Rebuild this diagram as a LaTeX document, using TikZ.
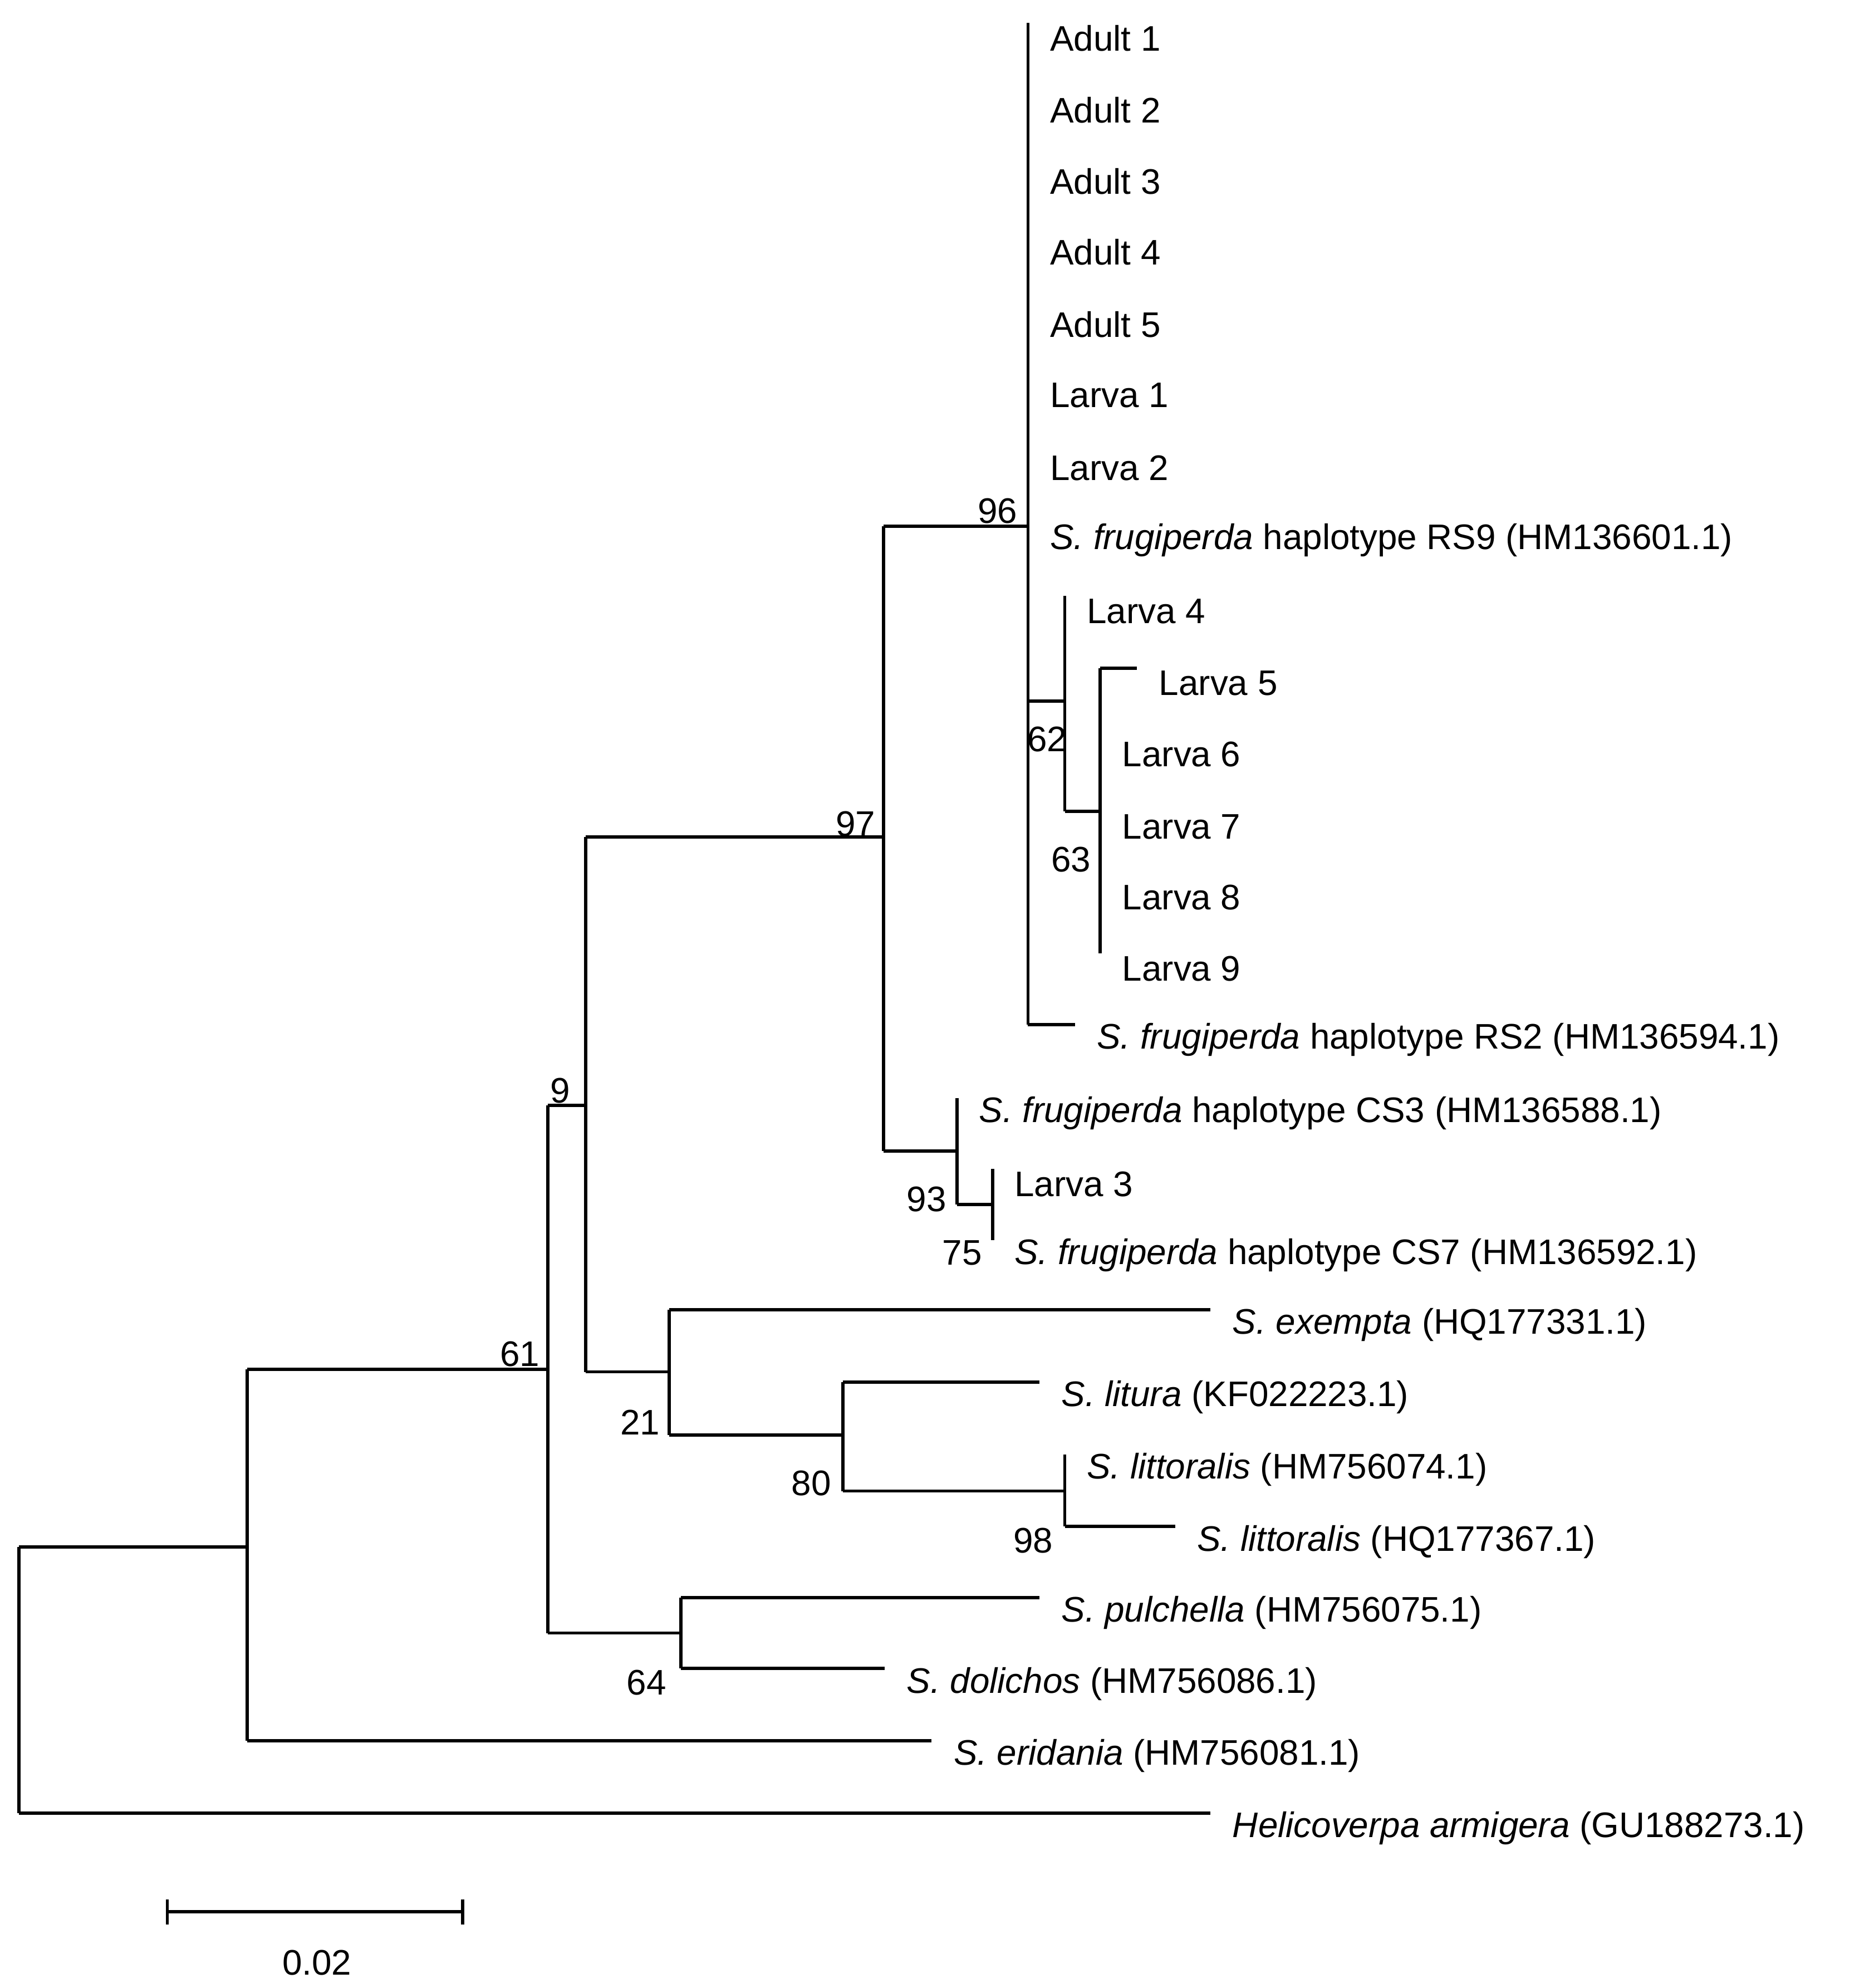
\documentclass[tikz,border=0pt]{standalone}
\usepackage{fontspec}
\setmainfont{Liberation Sans}
\newcommand{\lf}[4]{\draw[br] (#1,#3) -- (#2,#3); \node[lab] (#4) at (#2+17,#3+12) {#4};}
\begin{document}
\begin{tikzpicture}[x=0.5pt,y=-0.5pt,br/.style={line width=1.3pt},
 lab/.style={anchor=west,inner sep=0pt,font=\fontsize{14}{16}\selectfont},
 bs/.style={inner sep=0pt,font=\fontsize{14}{16}\selectfont}]
\useasboundingbox (0,0) rectangle (1478,1568);
\newcommand{\leaf}[4]{\draw[br] (#1,#3) -- (#2,#3); \node[lab] at (#2+17,#3+12) {#4};}
% root
\draw[br] (15,1220) -- (15,1430);
\draw[br] (15,1220) -- (195,1220);
\leaf{15}{955}{1430}{\textit{Helicoverpa armigera} (GU188273.1)}
\draw[br] (195,1080) -- (195,1373);
\draw[br] (195,1080) -- (432,1080);
\leaf{195}{735}{1373}{\textit{S. eridania} (HM756081.1)}
\draw[br] (432,872) -- (432,1288);
\draw[br] (432,872) -- (462,872);
\draw[br] (432,1288) -- (537,1288);
\draw[br] (462,660) -- (462,1082);
\draw[br] (462,660) -- (697,660);
\draw[br] (462,1082) -- (528,1082);
\draw[br] (697,415) -- (697,908);
\draw[br] (697,415) -- (811,415);
\draw[br] (697,908) -- (755,908);
\draw[br] (811,18) -- (811,808);
\foreach \y/\t in {18/Adult 1,75/Adult 2,131/Adult 3,187/Adult 4,244/Adult 5,300/Larva 1,357/Larva 2}
  \node[lab] at (828,\y+12) {\t};
\node[lab] at (828,426) {\textit{S. frugiperda} haplotype RS9 (HM136601.1)};
\draw[br] (811,553) -- (840,553);
\leaf{811}{848}{808}{\textit{S. frugiperda} haplotype RS2 (HM136594.1)}
\draw[br] (840,470) -- (840,640);
\node[lab] at (857,482) {Larva 4};
\draw[br] (840,640) -- (868,640);
\draw[br] (868,527) -- (868,752);
\leaf{868}{897}{527}{Larva 5}
\foreach \y/\t in {583/Larva 6,640/Larva 7,696/Larva 8,752/Larva 9}
  \node[lab] at (885,\y+12) {\t};
\draw[br] (755,866) -- (755,950);
\node[lab] at (772,878) {\textit{S. frugiperda} haplotype CS3 (HM136588.1)};
\draw[br] (755,950) -- (783,950);
\draw[br] (783,922) -- (783,978);
\node[lab] at (800,934) {Larva 3};
\node[lab] at (800,990) {\textit{S. frugiperda} haplotype CS7 (HM136592.1)};
\draw[br] (528,1033) -- (528,1132);
\leaf{528}{955}{1033}{\textit{S. exempta} (HQ177331.1)}
\draw[br] (528,1132) -- (665,1132);
\draw[br] (665,1090) -- (665,1176);
\leaf{665}{820}{1090}{\textit{S. litura} (KF022223.1)}
\draw[br] (665,1176) -- (840,1176);
\draw[br] (840,1147) -- (840,1204);
\node[lab] at (857,1159) {\textit{S. littoralis} (HM756074.1)};
\leaf{840}{927}{1204}{\textit{S. littoralis} (HQ177367.1)}
\draw[br] (537,1260) -- (537,1316);
\leaf{537}{820}{1260}{\textit{S. pulchella} (HM756075.1)}
\leaf{537}{698}{1316}{\textit{S. dolichos} (HM756086.1)}
% bootstrap
\foreach \x/\y/\t in {410/1068/61,442/860/9,675/650/97,787/403/96,826/583/62,845/678/63,731/946/93,759/988/75,505/1122/21,640/1170/80,815/1215/98,510/1327/64}
  \node[bs] at (\x,\y) {\t};
% scale
\draw[br] (132,1508) -- (365,1508);
\draw[br] (132,1498) -- (132,1518);
\draw[br] (365,1498) -- (365,1518);
\node[bs] at (250,1548) {0.02};
\end{tikzpicture}
\end{document}
